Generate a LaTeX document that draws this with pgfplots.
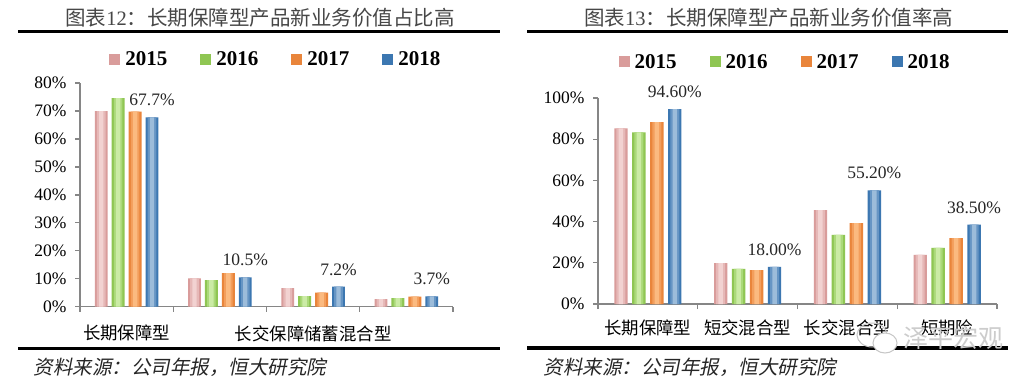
\documentclass[border=0pt]{standalone}
\usepackage{fontspec}
\setmainfont{Liberation Serif}
\newfontfamily\cjk{Noto Sans CJK SC}
\newfontfamily\cjkit[FakeSlant=0.2]{Noto Sans CJK SC}
\usepackage{pgfplots}
\usepackage{pgfplotstable}
\pgfplotsset{compat=1.18}

\definecolor{pinkD}{HTML}{D99C9B}
\definecolor{pinkM}{HTML}{E6B8B7}
\definecolor{pinkL}{HTML}{F2D2D1}
\definecolor{greenD}{HTML}{8FC653}
\definecolor{greenM}{HTML}{ABD97A}
\definecolor{greenL}{HTML}{CBEBA5}
\definecolor{orangeD}{HTML}{E9853B}
\definecolor{orangeM}{HTML}{F39E5C}
\definecolor{orangeL}{HTML}{FBBA80}
\definecolor{blueD}{HTML}{3C77B1}
\definecolor{blueM}{HTML}{6695C4}
\definecolor{blueL}{HTML}{9CBCDA}
\definecolor{axgray}{HTML}{868686}

\pgfplotstableread{
c y15 y16 y17 y18
0 69.9 74.6 69.8 67.7
1 10.1 9.5 12.0 10.5
2 6.6 3.8 5.0 7.2
3 2.7 3.1 3.6 3.7
}\leftdata
\pgfplotstableread{
c y15 y16 y17 y18
0 85.3 83.3 88.3 94.6
1 19.9 17.0 16.5 18.0
2 45.6 33.5 39.3 55.2
3 23.8 27.2 32.0 38.5
}\rightdata

\pgfplotsset{
  mybars/.style={
    scale only axis,
    /pgf/number format/assume math mode=true,
    axis x line*=bottom, axis y line*=left,
    axis line style={axgray, line width=1.3pt, -},
    ymin=0,
    xmin=-0.5, xmax=3.5,
    xtick={-0.5,0.5,1.5,2.5,3.5},
    xticklabels={,,,,,},
    tick style={axgray, line width=1.3pt},
    major tick length=5pt,
    tick align=outside,
    yticklabel={\pgfmathprintnumber{\tick}\%},
    yticklabel style={font=\fontsize{17.5}{18}\selectfont, xshift=-5pt},
    extra x ticks={0,1,2,3},
    legend columns=4,
    legend style={draw=none, fill=none, font=\bfseries\fontsize{21}{21}\selectfont,
      /tikz/every even column/.append style={column sep=31pt},
      /tikz/every odd column/.append style={column sep=3pt}},
    legend image code/.code={\path[##1,draw=none] (0pt,-5.5pt) rectangle (11pt,5.5pt);},
  },
  lbl/.style={only marks, mark=none, forget plot, point meta=explicit,
    nodes near coords={\pgfmathprintnumber[fixed,fixed zerofill,precision=#1]{\pgfplotspointmeta}\%},
    every node near coord/.append style={anchor=base, yshift=11.5pt, text=black!85, font=\fontsize{17.5}{18}\selectfont}},
}

% #1 table, #2 column, #3 shift, #4 full width, #5 mid width, #6 light width, #7 colour prefix
\newcommand{\tribar}[7]{%
  \addplot[ybar, draw=none, fill=#7D, bar width=#4, bar shift=#3,
    legend image post style={left color=#7D, right color=#7D, middle color=#7L}] table[x=c,y=#2]{#1};
  \addplot[ybar, draw=none, fill=#7M, bar width=#5, bar shift=#3, forget plot] table[x=c,y=#2]{#1};
  \addplot[ybar, draw=none, fill=#7L, bar width=#6, bar shift=#3, forget plot] table[x=c,y=#2]{#1};
}

\begin{document}
\begin{tikzpicture}[x=1pt,y=1pt]
\fill[white] (0,0) rectangle (1036,389);
\path[use as bounding box] (0,0) rectangle (1036,389);

% ---------- left panel ----------
\node[font=\cjk\fontsize{20.5}{22}\selectfont, text=black!72] at (260,371) {图表{\rmfamily 12}：长期保障型产品新业务价值占比高};
\draw[line width=3.5pt] (18,357.3) -- (500,357.3);
\draw[line width=3.5pt] (18,40.7) -- (500,40.7);
\node[anchor=west, font=\cjkit\fontsize{19.5}{20}\selectfont, text=black!85] at (30,22) {资料来源：公司年报，恒大研究院};

\begin{axis}[mybars, at={(80pt,82.3pt)}, anchor=south west,
  width=373pt, height=223.7pt, ymax=80, ytick={0,10,...,80},
  extra x tick labels={长期保障型,,长交保障储蓄混合型,},
  extra x tick style={major tick length=0pt, xticklabel style={font=\cjk\fontsize{17.4}{18}\selectfont, yshift=-15pt}},
  legend style={at={(0.525,1.107)}, anchor=center}]
\tribar{\leftdata}{y15}{-0.272}{0.138}{0.092}{0.046}{pink}
\tribar{\leftdata}{y16}{-0.091}{0.138}{0.092}{0.046}{green}
\tribar{\leftdata}{y17}{0.091}{0.138}{0.092}{0.046}{orange}
\tribar{\leftdata}{y18}{0.272}{0.138}{0.092}{0.046}{blue}
\legend{2015,2016,2017,2018}
\addplot[lbl=1] coordinates {(0.272,67.7) [67.7] (1.272,10.5) [10.5] (2.272,7.2) [7.2] (3.272,3.7) [3.7]};
\end{axis}

% ---------- right panel ----------
\node[font=\cjk\fontsize{20.5}{22}\selectfont, text=black!72] at (768.5,371) {图表{\rmfamily 13}：长期保障型产品新业务价值率高};
\draw[line width=3.5pt] (527,357.5) -- (1008,357.5);
\draw[line width=3.5pt] (527,41) -- (1008,41);
\node[anchor=west, font=\cjkit\fontsize{19.5}{20}\selectfont, text=black!85] at (540,22) {资料来源：公司年报，恒大研究院};

\begin{axis}[mybars, at={(598pt,85pt)}, anchor=south west,
  width=399pt, height=206pt, ymax=100, ytick={0,20,...,100},
  extra x tick labels={长期保障型,短交混合型,长交混合型,短期险},
  extra x tick style={major tick length=0pt, xticklabel style={font=\cjk\fontsize{17.4}{18}\selectfont, yshift=-12pt}},
  legend style={at={(0.469,1.175)}, anchor=center}]
\tribar{\rightdata}{y15}{-0.27}{0.134}{0.09}{0.045}{pink}
\tribar{\rightdata}{y16}{-0.09}{0.134}{0.09}{0.045}{green}
\tribar{\rightdata}{y17}{0.09}{0.134}{0.09}{0.045}{orange}
\tribar{\rightdata}{y18}{0.27}{0.134}{0.09}{0.045}{blue}
\legend{2015,2016,2017,2018}
\addplot[lbl=2] coordinates {(0.27,94.6) [94.6] (1.27,18.0) [18.0] (2.27,55.2) [55.2] (3.27,38.5) [38.5]};
\end{axis}

% watermark
\draw[gray!45, line width=1pt] (872,54) ellipse (15pt and 12pt);
\draw[gray!45, line width=1pt, fill=white] (885,46) ellipse (12pt and 10pt);
\node[font=\cjk\fontsize{25}{25}\selectfont, text=gray!40] at (953,51) {泽平宏观};
\end{tikzpicture}
\end{document}
